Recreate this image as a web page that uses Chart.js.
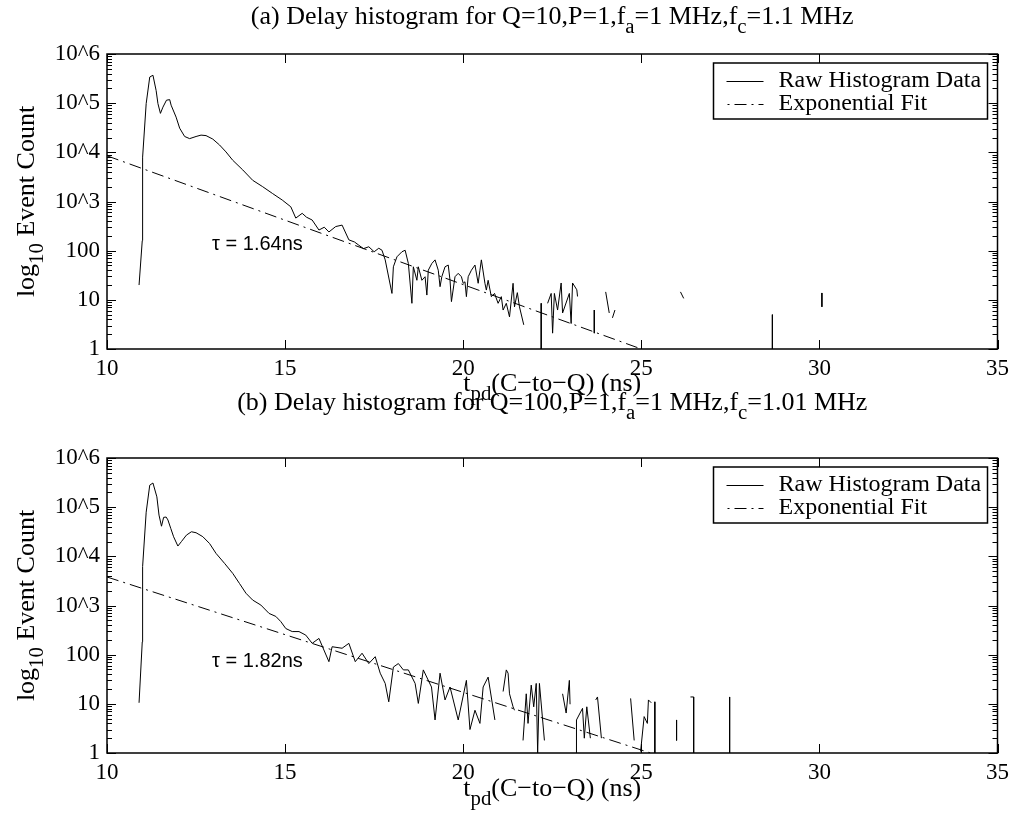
<!DOCTYPE html>
<html>
<head>
<meta charset="utf-8">
<script src="https://cdn.jsdelivr.net/npm/chart.js@4.4.1/dist/chart.umd.min.js"></script>
<style>
body { margin: 0; background: #fff; }
#wrap { position: relative; width: 1015px; height: 821px; }
canvas { position: absolute; left: 0; }
#chartA { top: 0; }
#chartB { top: 390px; }
</style>
</head>
<body>
<div id="wrap">
  <canvas id="chartA" width="1015" height="410"></canvas>
  <canvas id="chartB" width="1015" height="431"></canvas>
</div>
<script>
// axis ticks
var xTickValues = [10, 15, 20, 25, 30, 35];
var yTickValues = [1, 10, 100, 1000, 10000, 100000, 1000000];
var yTickLabels = ['1', '10', '100', '10^3', '10^4', '10^5', '10^6'];
var legendLabels = ['Raw Histogram Data', 'Exponential Fit'];

// (a) Q=10 : raw histogram (null = break in the line)
var timeA = [10.90, 10.99, 11.00, 11.10, 11.20, 11.29, 11.38, 11.43, 11.50, 11.57, 11.67, 11.76, 11.80, 11.94,
  12.04, 12.18, 12.32, 12.50, 12.64, 12.78, 12.97, 13.16, 13.34, 13.53, 13.81, 14.09, 14.37, 14.65, 14.92,
  15.16, 15.30, 15.48, 15.60, 15.76, 15.95, 16.10, 16.23, 16.42, 16.60, 16.79, 16.95, 17.07, 17.20, 17.35,
  17.50, 17.63, 17.72, 17.81,
  18.00, 18.04, 18.14, 18.28, 18.37, 18.46, 18.56, 18.60, 18.70, 18.74, 18.84, 18.93, 18.98, 19.02, 19.12,
  19.21, 19.30, 19.35, 19.40, 19.49, 19.58, 19.63, 19.67, 19.77, 19.86, 19.95, 20.00, 20.05, 20.09, 20.14,
  20.23, 20.33, 20.42, 20.47, 20.51, 20.61, 20.65, 20.70, 20.79, 20.88, 20.98, 21.07, 21.12, 21.21, 21.30,
  21.40, 21.44, 21.52, 21.58, 21.70, 21.71,
  22.19, 22.19, 22.20,
  22.37, 22.47, 22.51, 22.56, 22.65, 22.75, 22.79, 22.98, 23.03, 23.07, 23.19, 23.21, 23.22,
  23.68, 23.68, 23.69,
  24.00, 24.10, 24.11, 24.19, 24.26, 24.27,
  26.10, 26.19, 26.20,
  28.68, 28.68, 28.69,
  30.07, 30.07, 30.08];
var countA = [20, 160, 8000, 98000, 340000, 370000, 180000, 98000, 62000, 83000, 115000, 118000, 91000, 52000,
  31000, 21000, 19000, 21000, 22400, 21900, 18600, 14100, 10200, 6900, 4400, 2700, 2000, 1450, 1070,
  780, 460, 575, 480, 420, 263, 300, 240, 309, 331, 166, 150, 129, 110, 120,
  95, 112, 102, 65,
  13.5, 47, 75, 95, 102, 55, 8.5, 47, 25, 47, 25, 29.5, 12.5, 40, 55,
  65, 40, 18.5, 29.5, 47, 51, 25, 9.2, 29.5, 34.6, 29.5, 21.7, 23.3, 11.6, 29.5,
  40, 51, 21.7, 40, 65, 21.7, 15.8, 25, 11.6, 13.5, 8.5, 11.6, 6.2, 8.5, 4.5,
  21.7, 7.2, 14, 7.2, 3.1, null,
  8.5, 1, null,
  8.5, 13.5, 2.1, 13.5, 6.2, 22, 5.4, 13.5, 3.3, 22, 16, 11.7, null,
  6.2, 2.1, null,
  14.5, 5.4, null, 4.3, 6.2, null,
  14.5, 10.7, null,
  5, 1, null,
  13.8, 7.2, null];
var fitTimeA = [10, 25];
var fitCountA = [8500, 1];

// (b) Q=100 : raw histogram
var timeB = [10.90, 10.99, 11.00, 11.10, 11.20, 11.29, 11.40, 11.46, 11.53, 11.59, 11.66, 11.71, 11.79, 11.87,
  11.99, 12.09, 12.23, 12.37, 12.50, 12.69, 12.88, 13.06, 13.30, 13.53, 13.72, 13.90, 14.09, 14.32, 14.55,
  14.74, 14.88, 15.02, 15.20, 15.39, 15.58, 15.76, 15.95, 16.23, 16.32, 16.60, 16.79, 16.97, 17.16, 17.35,
  17.53, 17.67, 17.81, 17.91, 18.04, 18.18, 18.32, 18.46, 18.65, 18.74, 18.88, 19.11, 19.21, 19.35, 19.49,
  19.63, 19.86, 20.09, 20.19, 20.33, 20.47, 20.56, 20.70, 20.89, 20.90,
  21.12, 21.21, 21.26, 21.30, 21.40, 21.44, 21.45,
  21.68, 21.77, 21.82, 21.91, 21.98, 22.05, 22.09, 22.14, 22.28, 22.29,
  22.79, 22.89, 22.98, 23.00, 23.01,
  23.18, 23.18, 23.35, 23.40, 23.47, 23.57, 23.58,
  23.72, 23.77, 23.88, 23.89,
  24.70, 24.80, 24.81,
  24.98, 25.08, 25.17, 25.20, 25.28, 25.29,
  25.38, 25.38, 25.39,
  25.99, 25.99, 26.00,
  26.38, 26.47, 26.47, 26.48,
  27.48, 27.48, 27.49];
var countB = [10.5, 182, 6200, 79000, 280000, 310000, 162000, 69000, 41000, 62000, 63000, 55000, 37000, 25000,
  16200, 20000, 27000, 31600, 30200, 25100, 18200, 11500, 7200, 4500, 2800, 1780, 1290, 1020, 690,
  600, 470, 340, 295, 295, 250, 170, 214, 72, 145, 135, 170, 72, 107, 66,
  91, 42, 26, 11, 56, 66, 49, 49, 26, 10.2, 49, 22, 4.7, 42, 12,
  22, 4.7, 30, 3, 7.4, 4, 22, 35, 4.7, null,
  17.8, 49, 42, 16, 8.7, 7.4, null,
  1.8, 16, 4, 24, 8.7, 26, 1, 26, 1.8, null,
  16, 6.5, 30, 9.8, null,
  1, 4.7, 8.1, 2, 8.7, 2, null,
  12, 13.8, 2, null,
  12.9, 1.8, null,
  1.07, 5.5, 4, 12, 10.5, null,
  11, 1, null,
  4.7, 1.8, null,
  13.8, 13.8, 1, null,
  13.8, 1, null];
var fitTimeB = [10, 25.26];
var fitCountB = [3800, 1];

var serif = '"Liberation Serif", "Times New Roman", serif';
var fitDash = [12, 5, 2, 5];

function toPoints(xs, ys) {
    return xs.map(function (x, i) { return { x: x, y: ys[i] }; });
}

// text with subscripts: parts = [[text, isSub], ...]
function drawRich(ctx, parts, x, y, size, center) {
    var w = 0;
    parts.forEach(function (p) {
        ctx.font = (p[1] ? size * 0.8 : size) + 'px ' + serif;
        w += ctx.measureText(p[0]).width;
    });
    var cx = center ? x - w / 2 : x;
    parts.forEach(function (p) {
        ctx.font = (p[1] ? size * 0.8 : size) + 'px ' + serif;
        ctx.fillText(p[0], cx, p[1] ? y + size * 0.36 : y);
        cx += ctx.measureText(p[0]).width;
    });
}

var decorPlugin = {
    id: 'decor',
    afterDraw: function (chart, args, o) {
        var ctx = chart.ctx, a = chart.chartArea;
        var xs = chart.scales.x, ys = chart.scales.y;
        ctx.save();
        ctx.strokeStyle = '#000';
        ctx.fillStyle = '#000';

        // ticks pointing inward
        ctx.lineWidth = 1;
        ctx.beginPath();
        xTickValues.forEach(function (v) {
            var px = Math.round(xs.getPixelForValue(v)) + 0.5;
            ctx.moveTo(px, a.bottom); ctx.lineTo(px, a.bottom - 9);
            ctx.moveTo(px, a.top); ctx.lineTo(px, a.top + 9);
        });
        yTickValues.forEach(function (v, i) {
            var py = Math.round(ys.getPixelForValue(v)) + 0.5;
            ctx.moveTo(a.left, py); ctx.lineTo(a.left + 9, py);
            ctx.moveTo(a.right, py); ctx.lineTo(a.right - 9, py);
            if (i < yTickValues.length - 1) {
                for (var m = 2; m <= 9; m++) {
                    var pm = Math.round(ys.getPixelForValue(v * m)) + 0.5;
                    ctx.moveTo(a.left, pm); ctx.lineTo(a.left + 5, pm);
                    ctx.moveTo(a.right, pm); ctx.lineTo(a.right - 5, pm);
                }
            }
        });
        ctx.stroke();

        // frame
        ctx.lineWidth = 1.5;
        ctx.strokeRect(a.left, a.top, a.right - a.left, a.bottom - a.top);

        // title, axis labels
        ctx.textAlign = 'left';
        ctx.textBaseline = 'alphabetic';
        var cxm = (a.left + a.right) / 2;
        drawRich(ctx, o.title, cxm, a.top - o.titleGap, 26, true);
        drawRich(ctx, [['t', false], ['pd', true], ['(C\u2212to\u2212Q) (ns)', false]], cxm, a.bottom + o.xLabelGap, 26, true);
        ctx.save();
        ctx.translate(34, (a.top + a.bottom) / 2);
        ctx.rotate(-Math.PI / 2);
        drawRich(ctx, [['log', false], ['10', true], [' Event Count', false]], 0, 0, 26, true);
        ctx.restore();

        // legend box
        var bx = a.right - 284, by = a.top + 9, bw = 274, bh = 56;
        ctx.fillStyle = '#fff';
        ctx.fillRect(bx, by, bw, bh);
        ctx.fillStyle = '#000';
        ctx.lineWidth = 1.5;
        ctx.strokeRect(bx, by, bw, bh);
        ctx.lineWidth = 1;
        ctx.beginPath();
        ctx.moveTo(bx + 13, by + 18.5); ctx.lineTo(bx + 50, by + 18.5);
        ctx.stroke();
        ctx.setLineDash(fitDash);
        ctx.lineDashOffset = -8;
        ctx.beginPath();
        ctx.moveTo(bx + 13, by + 41.5); ctx.lineTo(bx + 50, by + 41.5);
        ctx.stroke();
        ctx.setLineDash([]);
        ctx.font = '24px ' + serif;
        ctx.textBaseline = 'middle';
        ctx.fillText(legendLabels[0], bx + 65, by + 18);
        ctx.fillText(legendLabels[1], bx + 65, by + 41);

        // tau annotation
        ctx.font = '20px "Liberation Sans", Arial, sans-serif';
        ctx.fillText(o.tau, xs.getPixelForValue(o.tauX), ys.getPixelForValue(o.tauY));
        ctx.restore();
    }
};

function makeChart(id, times, counts, fitTimes, fitCounts, opts) {
    var ctx = document.getElementById(id);
    return new Chart(ctx, {
        type: 'line',
        data: {
            datasets: [{
                label: legendLabels[0],
                data: toPoints(times, counts),
                borderColor: '#000',
                borderWidth: 1,
                pointRadius: 0,
                tension: 0,
                spanGaps: false
            }, {
                label: legendLabels[1],
                data: toPoints(fitTimes, fitCounts),
                borderColor: '#000',
                borderWidth: 1,
                borderDash: fitDash,
                pointRadius: 0
            }]
        },
        options: {
            animation: false,
            responsive: false,
            layout: { padding: { left: 0, right: 13, top: opts.top, bottom: 0 } },
            plugins: {
                legend: { display: false },
                tooltip: { enabled: false },
                decor: opts
            },
            scales: {
                x: {
                    type: 'linear',
                    min: 10,
                    max: 35,
                    grid: { display: false, drawTicks: false },
                    border: { display: false },
                    afterBuildTicks: function (axis) {
                        axis.ticks = xTickValues.map(function (v) { return { value: v }; });
                    },
                    afterFit: function (axis) { axis.height = opts.xHeight; },
                    ticks: {
                        color: '#000',
                        padding: 6,
                        maxRotation: 0,
                        font: { family: serif, size: 23 }
                    }
                },
                y: {
                    type: 'logarithmic',
                    min: 1,
                    max: 1000000,
                    grid: { display: false, drawTicks: false },
                    border: { display: false },
                    afterBuildTicks: function (axis) {
                        axis.ticks = yTickValues.map(function (v) { return { value: v }; });
                    },
                    afterFit: function (axis) { axis.width = 107; },
                    ticks: {
                        color: '#000',
                        padding: 7,
                        font: { family: serif, size: 23 },
                        callback: function (value) {
                            var i = yTickValues.indexOf(value);
                            return i >= 0 ? yTickLabels[i] : '';
                        }
                    }
                }
            }
        },
        plugins: [decorPlugin]
    });
}

makeChart('chartA', timeA, countA, fitTimeA, fitCountA, {
    top: 54, xHeight: 61, titleGap: 30, xLabelGap: 42,
    title: [['(a) Delay histogram for Q=10,P=1,f', false], ['a', true], ['=1 MHz,f', false], ['c', true], ['=1.1 MHz', false]],
    tau: '\u03c4 = 1.64ns', tauX: 12.95, tauY: 135
});
makeChart('chartB', timeB, countB, fitTimeB, fitCountB, {
    top: 68, xHeight: 68, titleGap: 48, xLabelGap: 43,
    title: [['(b) Delay histogram for Q=100,P=1,f', false], ['a', true], ['=1 MHz,f', false], ['c', true], ['=1.01 MHz', false]],
    tau: '\u03c4 = 1.82ns', tauX: 12.95, tauY: 71
});
</script>
</body>
</html>
